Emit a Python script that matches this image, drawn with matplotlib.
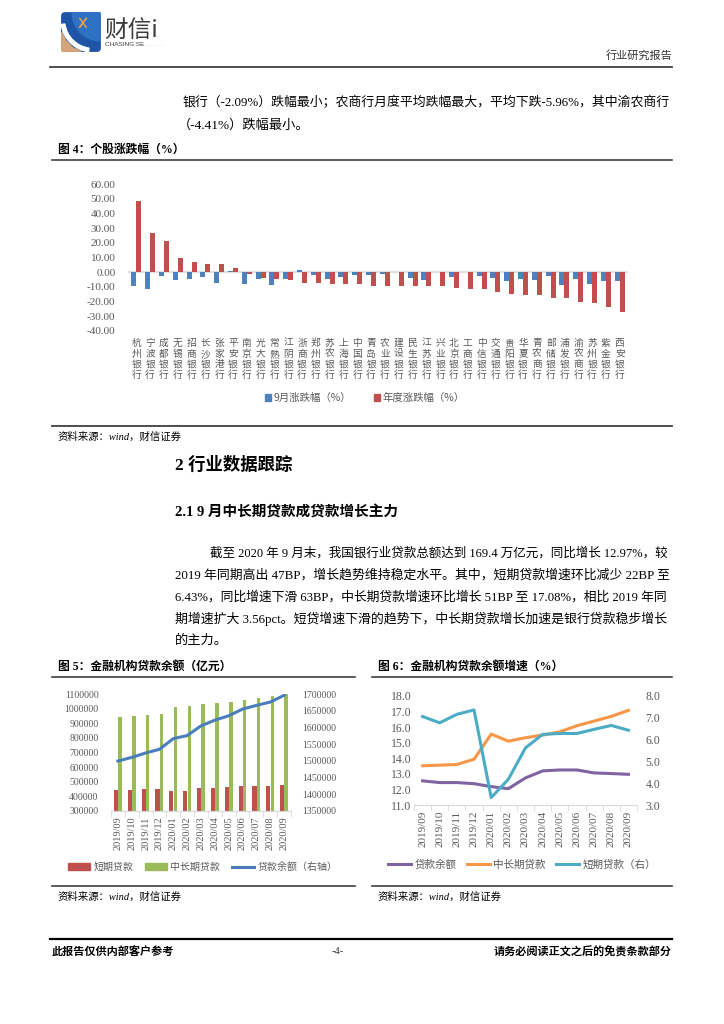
import matplotlib
matplotlib.use('Agg')
import matplotlib.pyplot as plt
import numpy as np
from matplotlib.patches import Rectangle, Polygon, Wedge, Patch, FancyBboxPatch
from matplotlib.lines import Line2D

# ---------------- data ----------------
banks = ['杭州银行', '宁波银行', '成都银行', '无锡银行', '招商银行', '长沙银行', '张家港行', '平安银行',
         '南京银行', '光大银行', '常熟银行', '江阴银行', '浙商银行', '郑州银行', '苏农银行', '上海银行',
         '中国银行', '青岛银行', '农业银行', '建设银行', '民生银行', '江苏银行', '兴业银行', '北京银行',
         '工商银行', '中信银行', '交通银行', '贵阳银行', '华夏银行', '青农商行', '邮储银行', '浦发银行',
         '渝农商行', '苏州银行', '紫金银行', '西安银行']
sept_chg = [-9.3, -11.1, -2.7, -5.4, -4.3, -3.6, -7.3, 1.0, -7.9, -4.8, -8.4, -4.8, 1.5, -1.6, -4.8, -3.0,
            -2.0, -1.8, -0.9, -0.2, -4.1, -5.2, -0.2, -3.2, -0.2, -2.5, -4.1, -5.9, -4.5, -5.4, -2.3, -8.8,
            -4.41, -7.7, -6.3, -5.9]
year_chg = [48.1, 27.0, 20.9, 9.5, 7.0, 5.9, 5.9, 2.7, -1.1, -4.1, -4.8, -5.4, -7.3, -7.3, -7.9, -7.9,
            -8.0, -9.1, -9.2, -9.4, -9.5, -9.5, -9.6, -10.9, -11.6, -11.7, -13.4, -14.5, -15.2, -15.6, -17.6,
            -17.7, -20.6, -20.7, -24.0, -27.0]

months = ['2019/09', '2019/10', '2019/11', '2019/12', '2020/01', '2020/02', '2020/03', '2020/04',
          '2020/05', '2020/06', '2020/07', '2020/08', '2020/09']
short_loan = [444500, 444500, 451400, 451400, 437600, 437600, 456000, 456000, 462800, 469700,
              469700, 469700, 476600]
mid_long_loan = [939600, 946400, 957900, 964800, 1010600, 1015200, 1028900, 1040400, 1047300,
                 1061000, 1072500, 1084000, 1102300]
total_loan = [1499400, 1510400, 1523500, 1534500, 1566600, 1575600, 1604700, 1621800, 1634800,
              1654900, 1665900, 1675900, 1696000]

g_total = [12.55, 12.44, 12.44, 12.37, 12.18, 12.05, 12.74, 13.19, 13.25, 13.25, 13.06, 13.02, 12.97]
g_midlong = [13.52, 13.56, 13.60, 13.94, 15.55, 15.10, 15.32, 15.49, 15.70, 16.09, 16.39, 16.69, 17.08]
g_short = [7.06, 6.77, 7.16, 7.36, 3.34, 4.18, 5.62, 6.24, 6.28, 6.28, 6.47, 6.65, 6.43]

# ---------------- figure helpers ----------------
W, H = 724, 1024
fig = plt.figure(figsize=(7.24, 10.24), dpi=100)
plt.rcParams['font.family'] = ['Liberation Serif', 'Noto Sans CJK SC', 'DejaVu Sans']
MIX = ['Liberation Serif', 'Noto Sans CJK SC', 'DejaVu Sans']
CJK = ['Noto Sans CJK SC', 'DejaVu Sans']
GREY = '#595959'


def fx(x):
    return x / W


def fy(y):
    return 1 - y / H


def add_ax(l, t, r, b):
    return fig.add_axes([l / W, 1 - b / H, (r - l) / W, (b - t) / H])


def T(x, y, s, **kw):
    kw.setdefault('va', 'center')
    kw.setdefault('family', MIX)
    return fig.text(fx(x), fy(y), s, **kw)


def hline(x0, x1, y, color='#404040', lw=1.2):
    fig.add_artist(Line2D([fx(x0), fx(x1)], [fy(y), fy(y)], color=color, lw=lw))


renderer = fig.canvas.get_renderer()


def justified(x0, x1, y, s, base=9.5, justify=True):
    t = T(x0, y, s, fontsize=base, ha='left')
    if justify:
        w = t.get_window_extent(renderer).width
        f = base * (x1 - x0) / w
        t.set_fontsize(min(max(f, base * 0.9), base * 1.1))
    return t


# ---------------- header ----------------
logo = add_ax(61, 12, 101, 52)
logo.set_xlim(0, 1)
logo.set_ylim(0, 1)
logo.axis('off')
logo.add_patch(FancyBboxPatch((0.02, 0.02), 0.96, 0.96, boxstyle='round,pad=0,rounding_size=0.08',
                              color='#1f55a6'))
logo.add_patch(Wedge((0.98, 0.98), 0.7, 180, 270, color='#2f72c4'))
logo.add_patch(Polygon([(0.02, 0.02), (0.02, 0.5), (0.12, 0.28), (0.3, 0.1), (0.5, 0.02)], color='#d8a57a'))
logo.add_patch(Wedge((0.8, 0.8), 0.8, 188, 262, width=0.09, color='white'))
logo.plot([0.47, 0.63], [0.62, 0.84], color='#f2a444', lw=1.2)
logo.plot([0.47, 0.63], [0.84, 0.62], color='#f2a444', lw=1.0)
T(104, 30, '财信i', fontsize=17, family=CJK, color='#3c3c3c', ha='left')
T(105, 45, 'CHASING SE', fontsize=4.6, family=['Liberation Sans'], color='#3c3c3c', ha='left')
T(143, 45, '. . . . . .', fontsize=4.6, family=['Liberation Sans'], color='#b0b0b0', ha='left')
T(672, 55, '行业研究报告', fontsize=8, family=CJK, color='#333333', ha='right')
hline(50, 672, 67, color='#404040', lw=1.3)

justified(183, 672, 103, '银行（-2.09%）跌幅最小；农商行月度平均跌幅最大，平均下跌-5.96%，其中渝农商行')
justified(178, 672, 125, '（-4.41%）跌幅最小。', justify=False)

# ---------------- figure 4 ----------------
T(58, 150, '图 4：个股涨跌幅（%）', fontsize=8.5, weight='bold', ha='left')
hline(52, 672, 160, color='#404040', lw=1.2)

ax4 = add_ax(128, 184, 628, 331)
x4 = np.arange(len(banks))
ax4.bar(x4 - 0.18, sept_chg, width=0.36, color='#4f81bd', zorder=2)
ax4.bar(x4 + 0.18, year_chg, width=0.36, color='#c0504d', zorder=2)
ax4.axhline(0, color='#d9d9d9', lw=1.2, zorder=1)
ax4.set_xlim(-0.6, len(banks) - 0.4)
ax4.set_ylim(-40, 60)
ax4.set_yticks(np.arange(-40, 61, 10))
ax4.set_yticklabels(['%.2f' % v for v in np.arange(-40, 61, 10)], family=MIX, fontsize=8, color=GREY)
ax4.set_xticks(x4)
ax4.set_xticklabels(['\n'.join(b) for b in banks], family=CJK, fontsize=7, color=GREY, linespacing=1.08)
ax4.tick_params(axis='both', length=0)
ax4.tick_params(axis='y', pad=9)
ax4.tick_params(axis='x', pad=5)
for s in ax4.spines.values():
    s.set_visible(False)
ax4.legend(handles=[Patch(color='#4f81bd'), Patch(color='#c0504d')],
           labels=['9月涨跌幅（%）', '年度涨跌幅（%）'],
           loc='center', bbox_to_anchor=(fx(365), fy(398)), bbox_transform=fig.transFigure,
           ncol=2, frameon=False, handlelength=0.55, handleheight=0.55, handletextpad=0.25,
           columnspacing=2.2, prop={'family': CJK, 'size': 7.5}, labelcolor=GREY)

hline(52, 672, 426, color='#404040', lw=1.3)
T(58, 437, '资料来源：wind，财信证券', fontsize=7.5, style='italic', ha='left')

# ---------------- section text ----------------
T(175, 465, '2 行业数据跟踪', fontsize=12.5, weight='bold', ha='left')
T(175, 513, '2.1 9 月中长期贷款成贷款增长主力', fontsize=10.5, weight='bold', ha='left')
para = ['截至 2020 年 9 月末，我国银行业贷款总额达到 169.4 万亿元，同比增长 12.97%，较',
        '2019 年同期高出 47BP，增长趋势维持稳定水平。其中，短期贷款增速环比减少 22BP 至',
        '6.43%，同比增速下滑 63BP，中长期贷款增速环比增长 51BP 至 17.08%，相比 2019 年同',
        '期增速扩大 3.56pct。短贷增速下滑的趋势下，中长期贷款增长加速是银行贷款稳步增长',
        '的主力。']
ys = [553, 575, 597, 619, 641]
for i, (line, yy) in enumerate(zip(para, ys)):
    x0 = 210 if i == 0 else 175
    justified(x0, 672, yy, line, justify=(i < len(para) - 1))

# ---------------- figure 5 ----------------
T(58, 667, '图 5：金融机构贷款余额（亿元）', fontsize=8.5, weight='bold', ha='left')
hline(52, 355, 677, color='#404040', lw=1.2)

ax5 = add_ax(111, 694, 291, 811)
x5 = np.arange(len(months))
ax5.bar(x5 - 0.14, short_loan, width=0.3, color='#c0504d', zorder=2)
ax5.bar(x5 + 0.15, mid_long_loan, width=0.25, color='#9bbb59', zorder=2)
ax5.set_xlim(-0.5, len(months) - 0.5)
ax5.set_ylim(300000, 1100000)
ax5.set_yticks(np.arange(300000, 1100001, 100000))
ax5.set_yticklabels(['%d' % v for v in np.arange(300000, 1100001, 100000)], family=MIX,
                    fontsize=7, color=GREY)
ax5.set_xticks(x5)
ax5.set_xticklabels(months, rotation=90, family=MIX, fontsize=7.4, color=GREY)
ax5.set_xticks(np.arange(-0.5, len(months), 1), minor=True)
ax5.tick_params(axis='x', which='major', length=0, pad=4)
ax5.tick_params(axis='x', which='minor', length=4, color='#d9d9d9')
ax5.tick_params(axis='y', length=0, pad=9)
ax5r = ax5.twinx()
ax5r.plot(x5, total_loan, color='#4a7ebb', lw=2.2, zorder=3)
ax5r.set_ylim(1350000, 1700000)
ax5r.set_yticks(np.arange(1350000, 1700001, 50000))
ax5r.set_yticklabels(['%d' % v for v in np.arange(1350000, 1700001, 50000)], family=MIX,
                     fontsize=7, color=GREY)
ax5r.tick_params(axis='y', length=0, pad=8)
for a in (ax5, ax5r):
    for k, s in a.spines.items():
        s.set_visible(k == 'bottom')
    a.spines['bottom'].set_color('#d9d9d9')
ax5.legend(handles=[Patch(color='#c0504d'), Patch(color='#9bbb59'),
                    Line2D([], [], color='#4a7ebb', lw=2.2)],
           labels=['短期贷款', '中长期贷款', '贷款余额（右轴）'],
           loc='center', bbox_to_anchor=(fx(203), fy(867)), bbox_transform=fig.transFigure,
           ncol=3, frameon=False, handlelength=2.2, handleheight=0.6, handletextpad=0.3,
           columnspacing=1.2, prop={'family': CJK, 'size': 7.2}, labelcolor=GREY)
hline(52, 355, 886, color='#404040', lw=1.2)
T(58, 897, '资料来源：wind，财信证券', fontsize=7.5, style='italic', ha='left')

# ---------------- figure 6 ----------------
T(378, 667, '图 6：金融机构贷款余额增速（%）', fontsize=8.5, weight='bold', ha='left')
hline(372, 672, 677, color='#404040', lw=1.2)

ax6 = add_ax(414, 696, 637, 805)
x6 = np.arange(len(months))
ax6.plot(x6, g_total, color='#8064a2', lw=2.2, zorder=3)
ax6.plot(x6, g_midlong, color='#f79646', lw=2.2, zorder=3)
ax6.set_xlim(-0.5, len(months) - 0.5)
ax6.set_ylim(11, 18)
ax6.set_yticks(np.arange(11, 18.01, 1))
ax6.set_yticklabels(['%.1f' % v for v in np.arange(11, 18.01, 1)], family=MIX, fontsize=8.5, color=GREY)
ax6.set_xticks(x6)
ax6.set_xticklabels(months, rotation=90, family=MIX, fontsize=8, color=GREY)
ax6.set_xticks(np.arange(-0.5, len(months), 1), minor=True)
ax6.tick_params(axis='x', which='major', length=0, pad=4)
ax6.tick_params(axis='x', which='minor', length=4, color='#d9d9d9')
ax6.tick_params(axis='y', length=0, pad=2)
ax6r = ax6.twinx()
ax6r.plot(x6, g_short, color='#4bacc6', lw=2.2, zorder=3)
ax6r.set_ylim(3, 8)
ax6r.set_yticks(np.arange(3, 8.01, 1))
ax6r.set_yticklabels(['%.1f' % v for v in np.arange(3, 8.01, 1)], family=MIX, fontsize=8.5, color=GREY)
ax6r.tick_params(axis='y', length=0, pad=6)
for a in (ax6, ax6r):
    for k, s in a.spines.items():
        s.set_visible(k == 'bottom')
    a.spines['bottom'].set_color('#d9d9d9')
ax6.legend(handles=[Line2D([], [], color='#8064a2', lw=2.2), Line2D([], [], color='#f79646', lw=2.2),
                    Line2D([], [], color='#4bacc6', lw=2.2)],
           labels=['贷款余额', '中长期贷款', '短期贷款（右）'],
           loc='center', bbox_to_anchor=(fx(522), fy(865)), bbox_transform=fig.transFigure,
           ncol=3, frameon=False, handlelength=2.2, handletextpad=0.3,
           columnspacing=1.0, prop={'family': CJK, 'size': 7.6}, labelcolor=GREY)
hline(372, 672, 886, color='#404040', lw=1.2)
T(378, 897, '资料来源：wind，财信证券', fontsize=7.5, style='italic', ha='left')

# ---------------- footer ----------------
hline(50, 672, 939, color='#000000', lw=1.6)
T(52, 952, '此报告仅供内部客户参考', fontsize=8, weight='bold', ha='left')
T(338, 952, '-4-', fontsize=7.5, ha='center', color='#333333')
T(672, 952, '请务必阅读正文之后的免责条款部分', fontsize=8, weight='bold', ha='right')

fig.savefig('out.png', dpi=100)
